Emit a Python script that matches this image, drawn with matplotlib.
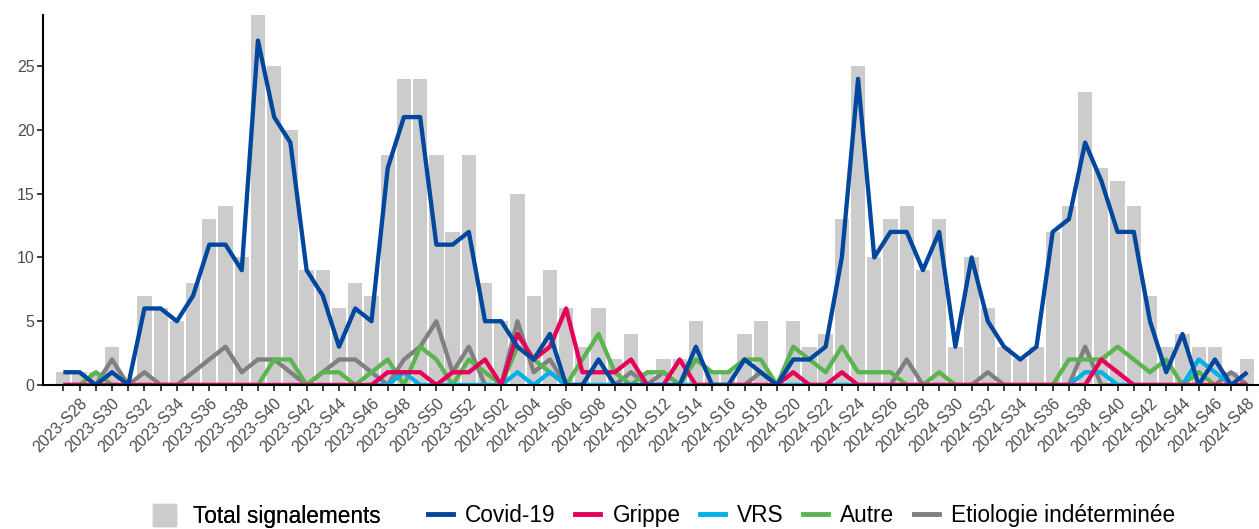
import numpy as np
import matplotlib.pyplot as plt
from matplotlib.patches import Patch
from matplotlib.lines import Line2D

plt.rcParams['font.family'] = ['Liberation Sans', 'DejaVu Sans']

# semaines 2023-S27 -> 2024-S48
semaines = [f"2023-S{s:02d}" for s in range(27, 53)] + [f"2024-S{s:02d}" for s in range(1, 49)]

total = [1, 1, 1, 3, 0, 7, 6, 5, 8, 13, 14, 10, 29, 25, 20, 9, 9, 6, 8, 7,
         18, 24, 24, 18, 12, 18, 8, 5, 15, 7, 9, 6, 3, 6, 2, 4, 1, 2, 2, 5,
         1, 1, 4, 5, 0, 5, 3, 4, 13, 25, 10, 13, 14, 9, 13, 3, 10, 6, 3, 2,
         3, 12, 14, 23, 17, 16, 14, 7, 3, 4, 3, 3, 1, 2]
covid = [1, 1, 0, 1, 0, 6, 6, 5, 7, 11, 11, 9, 27, 21, 19, 9, 7, 3, 6, 5,
         17, 21, 21, 11, 11, 12, 5, 5, 3, 2, 4, 0, 0, 2, 0, 0, 0, 0, 0, 3,
         0, 0, 2, 1, 0, 2, 2, 3, 10, 24, 10, 12, 12, 9, 12, 3, 10, 5, 3, 2,
         3, 12, 13, 19, 16, 12, 12, 5, 1, 4, 0, 2, 0, 1]
grippe = [0, 0, 0, 0, 0, 0, 0, 0, 0, 0, 0, 0, 0, 0, 0, 0, 0, 0, 0, 0,
          1, 1, 1, 0, 1, 1, 2, 0, 4, 2, 3, 6, 1, 1, 1, 2, 0, 0, 2, 0,
          0, 0, 0, 0, 0, 1, 0, 0, 1, 0, 0, 0, 0, 0, 0, 0, 0, 0, 0, 0,
          0, 0, 0, 0, 2, 1, 0, 0, 0, 0, 0, 0, 0, 0]
vrs = [0, 0, 0, 0, 0, 0, 0, 0, 0, 0, 0, 0, 0, 0, 0, 0, 0, 0, 0, 0,
       0, 1, 0, 0, 0, 0, 0, 0, 1, 0, 1, 0, 0, 0, 0, 0, 0, 0, 0, 0,
       0, 0, 0, 0, 0, 0, 0, 0, 0, 0, 0, 0, 0, 0, 0, 0, 0, 0, 0, 0,
       0, 0, 0, 1, 1, 0, 0, 0, 0, 0, 2, 1, 0, 0]
autre = [0, 0, 1, 0, 0, 0, 0, 0, 0, 0, 0, 0, 0, 2, 2, 0, 1, 1, 0, 1,
         2, 0, 3, 2, 0, 2, 1, 0, 3, 2, 1, 0, 2, 4, 1, 0, 1, 1, 0, 2,
         1, 1, 2, 2, 0, 3, 2, 1, 3, 1, 1, 1, 0, 0, 1, 0, 0, 0, 0, 0,
         0, 0, 2, 2, 2, 3, 2, 1, 2, 0, 1, 0, 0, 0]
indet = [0, 0, 0, 2, 0, 1, 0, 0, 1, 2, 3, 1, 2, 2, 1, 0, 1, 2, 2, 1,
         0, 2, 3, 5, 1, 3, 0, 0, 5, 1, 2, 0, 0, 0, 0, 1, 0, 1, 0, 0,
         0, 0, 0, 1, 0, 0, 0, 0, 0, 0, 0, 0, 2, 0, 0, 0, 0, 1, 0, 0,
         0, 0, 0, 3, 0, 0, 0, 0, 0, 0, 0, 0, 1, 0]

couleurs = {
    'Covid-19': '#00479D',
    'Grippe': '#E5005A',
    'VRS': '#00B0E6',
    'Autre': '#5BB450',
    'Etiologie indéterminée': '#808080',
}
series = {
    'Covid-19': covid,
    'Grippe': grippe,
    'VRS': vrs,
    'Autre': autre,
    'Etiologie indéterminée': indet,
}

x = np.arange(len(semaines))

fig = plt.figure(figsize=(12.59, 5.29), dpi=100)
ax = fig.add_axes([0.0342, 0.2722, 0.9658, 0.6994])

ax.bar(x, total, width=0.88, color='#CCCCCC', zorder=1)
# lignes du fond d'abord, covid au dessus
for nom in ['Etiologie indéterminée', 'Autre', 'VRS', 'Grippe', 'Covid-19']:
    ax.plot(x, series[nom], color=couleurs[nom], lw=3.1, zorder=2,
            solid_joinstyle='round', solid_capstyle='butt')

ax.set_xlim(-1.25, len(semaines) - 1 + 0.72)
ax.set_ylim(0, 29)
ax.set_yticks([0, 5, 10, 15, 20, 25])
ax.set_xticks(x)
ax.set_xticklabels([s if i % 2 == 1 else '' for i, s in enumerate(semaines)],
                   rotation=45, ha='right', va='top', rotation_mode='anchor')
ax.tick_params(axis='both', colors='#333333', labelcolor='#4D4D4D',
               length=4.5, width=1.3)
ax.tick_params(axis='x', pad=3, labelsize=11.5)
ax.tick_params(axis='y', pad=1.5, labelsize=11.5)

for s in ['top', 'right']:
    ax.spines[s].set_visible(False)
for s in ['left', 'bottom']:
    ax.spines[s].set_linewidth(1.5)
    ax.spines[s].set_color('black')

# deux legendes comme dans ggplot (fill + colour)
h_total = [Patch(color='#CCCCCC', label='Total signalements')]
leg1 = fig.legend(handles=h_total, loc='center left',
                  bbox_to_anchor=(153 / 1259, 0.025), frameon=False,
                  fontsize=16.3, handlelength=1.0, handleheight=1.1,
                  handletextpad=0.75, borderpad=0, borderaxespad=0)
h_lignes = [Line2D([], [], color=couleurs[n], lw=3.5, label=n) for n in series]
fig.legend(handles=h_lignes, loc='center left',
           bbox_to_anchor=(428 / 1259, 0.025), ncol=5, frameon=False,
           fontsize=16.3, handlelength=1.1, handletextpad=0.55,
           columnspacing=0.85, borderpad=0, borderaxespad=0)
fig.add_artist(leg1)

fig.savefig('out.png', dpi=100)
